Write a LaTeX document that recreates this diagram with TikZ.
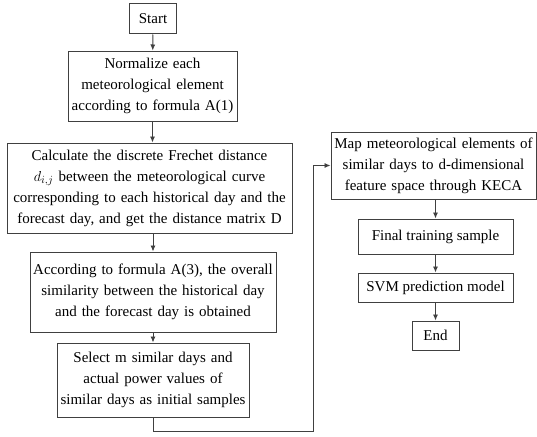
\documentclass[tikz,border=0pt]{standalone}
\usepackage{amsmath}
\usepackage{fontspec}
\setmainfont{Liberation Serif}
\usetikzlibrary{arrows.meta}

\begin{document}
\begin{tikzpicture}[x=1pt,y=-1pt,
    block/.style={
      draw=black!75,
      line width=1pt,
      rectangle,
      align=center,
      inner sep=0pt,
      font=\fontsize{15}{21}\selectfont
    }]
\tikzset{edge/.style = {draw=black!75, line width=0.9pt, -{Latex[length=6pt,width=5pt]}}}
\useasboundingbox (0,0) rectangle (537,436);
%\draw (0,0) rectangle (537,436);
\node[block,minimum width=47pt,minimum height=30pt] (start) at (153,19) {Start};
\node[block,minimum width=169pt,minimum height=70pt,text width=165pt] (norm) at (152.5,86)
  {Normalize each\\ meteorological element\\ according to formula A(1)};
\node[block,minimum width=285pt,minimum height=90pt,text width=282pt] (calc) at (149.5,188)
  {Calculate the discrete Frechet distance\\ $d_{i,j}$ between the meteorological curve\\ corresponding to each historical day and the\\ forecast day, and get the distance matrix D};
\node[block,minimum width=246pt,minimum height=80pt,text width=242pt] (simi) at (153,292)
  {According to formula A(3), the overall\\ similarity between the historical day\\ and the forecast day is obtained};
\node[block,minimum width=192pt,minimum height=74pt,text width=188pt] (sel) at (153,380)
  {Select m similar days and\\ actual power values of\\ similar days as initial samples};
\node[block,minimum width=205pt,minimum height=67pt,text width=202pt] (map) at (433.5,165.5)
  {Map meteorological elements of\\ similar days to d-dimensional\\ feature space through KECA};
\node[block,minimum width=155pt,minimum height=35pt] (train) at (435.5,236.5) {Final training sample};
\node[block,minimum width=155pt,minimum height=29pt] (svm) at (435.5,287.5) {SVM prediction model};
\node[block,minimum width=47pt,minimum height=29pt] (end) at (435.5,335.5) {End};
\coordinate (c1) at (153,431);
\coordinate (c2) at (313,431);
\coordinate (c3) at (313,165.5);
\draw[edge] (start) -- (norm);
\draw[edge] (norm) -- (calc.north -| norm);
\draw[edge] (calc.south -| simi) -- (simi);
\draw[edge] (simi) -- (sel);
\draw[edge] (sel.south) -- (c1) -- (c2) -- (c3) -- (map.west);
\draw[edge] (map.south -| train) -- (train);
\draw[edge] (train) -- (svm);
\draw[edge] (svm) -- (end);
\end{tikzpicture}
\end{document}
